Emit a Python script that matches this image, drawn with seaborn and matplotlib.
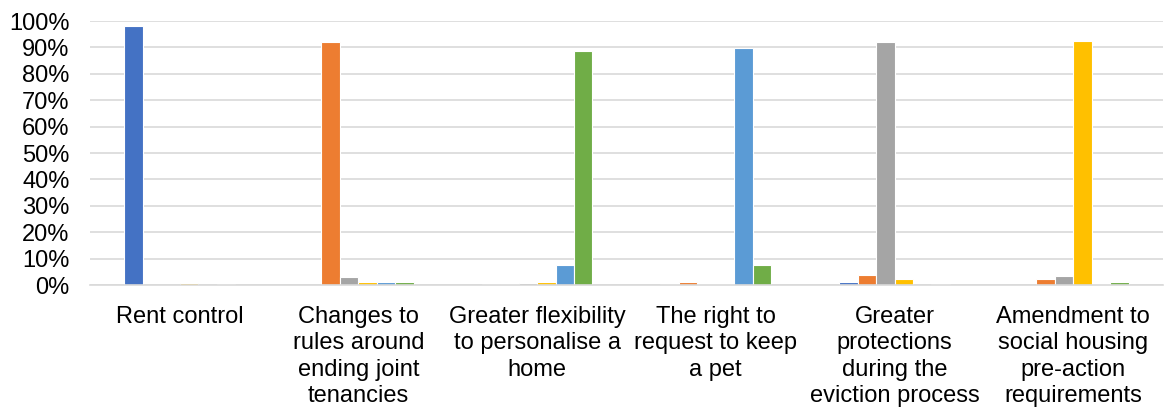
import numpy as np
import pandas as pd
import seaborn as sns
import matplotlib.pyplot as plt
from matplotlib.ticker import PercentFormatter

# categories (x axis)
categories = [
    "Rent control",
    "Changes to\nrules around\nending joint\ntenancies",
    "Greater flexibility\nto personalise a\nhome",
    "The right to\nrequest to keep\na pet",
    "Greater\nprotections\nduring the\neviction process",
    "Amendment to\nsocial housing\npre-action\nrequirements",
]

# series values (% per category)
series_names = ["Series 1", "Series 2", "Series 3", "Series 4", "Series 5", "Series 6"]
s1 = [98.0, 0.0, 0.3, 0.3, 1.0, 0.0]
s2 = [0.0, 92.0, 0.6, 1.0, 3.7, 2.2]
s3 = [0.0, 3.2, 0.9, 0.3, 92.0, 3.3]
s4 = [0.8, 1.2, 1.3, 0.6, 2.5, 92.6]
s5 = [0.0, 1.2, 7.7, 89.6, 0.0, 0.6]
s6 = [0.5, 1.2, 88.5, 7.7, 0.3, 1.0]

colors = ["#4472C4", "#ED7D31", "#A5A5A5", "#FFC000", "#5B9BD5", "#70AD47"]

rows = []
for name, vals in zip(series_names, [s1, s2, s3, s4, s5, s6]):
    for cat, v in zip(categories, vals):
        rows.append({"category": cat, "series": name, "value": v})
df = pd.DataFrame(rows)

sns.set_style("white")
plt.rcParams["font.family"] = ["Liberation Sans", "DejaVu Sans"]

fig = plt.figure(figsize=(11.72, 4.12), dpi=100)
ax = fig.add_axes([0.077, 0.308, 0.915, 0.641])

sns.barplot(
    data=df, x="category", y="value", hue="series",
    palette=colors, saturation=1, width=0.62, edgecolor="white", linewidth=0.8,
    legend=False, ax=ax, errorbar=None,
)

ax.set_ylim(0, 100)
ax.set_yticks(np.arange(0, 101, 10))
ax.yaxis.set_major_formatter(PercentFormatter(decimals=0))
ax.grid(axis="y", color="#D9D9D9", linewidth=1.2)
ax.set_axisbelow(True)
for side in ["top", "right", "left"]:
    ax.spines[side].set_visible(False)
ax.spines["bottom"].set_color("#D9D9D9")
ax.spines["bottom"].set_linewidth(1.2)
ax.tick_params(axis="both", length=0, labelsize=17, colors="black")
ax.tick_params(axis="x", pad=15)
ax.tick_params(axis="y", pad=15)
for lbl in ax.get_xticklabels():
    lbl.set_linespacing(1.26)
ax.set_xlabel("")
ax.set_ylabel("")

plt.savefig("out.png", dpi=100)
